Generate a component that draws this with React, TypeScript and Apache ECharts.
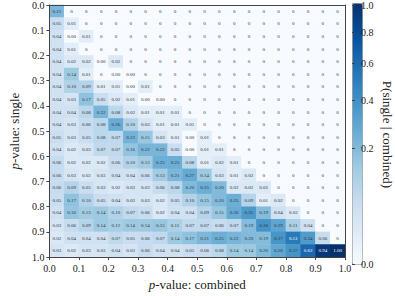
import React, { useEffect, useRef } from "react";
import * as echarts from "echarts";

// rows: p-value single (0.0 top -> 1.0 bottom), columns: p-value combined (0.0 -> 1.0)
const row00 = ["0.21","0","0","0","0","0","0","0","0","0","0","0","0","0","0","0","0","0","0","0"];
const row01 = ["0.05","0.01","0","0","0","0","0","0","0","0","0","0","0","0","0","0","0","0","0","0"];
const row02 = ["0.04","0.00","0.01","0","0","0","0","0","0","0","0","0","0","0","0","0","0","0","0","0"];
const row03 = ["0.04","0.01","0","0","0","0","0","0","0","0","0","0","0","0","0","0","0","0","0","0"];
const row04 = ["0.04","0.02","0.02","0.00","0.02","0","0","0","0","0","0","0","0","0","0","0","0","0","0","0"];
const row05 = ["0.04","0.14","0.01","0","0.00","0.00","0","0","0","0","0","0","0","0","0","0","0","0","0","0"];
const row06 = ["0.04","0.10","0.09","0.01","0.01","0.00","0.01","0","0","0","0","0","0","0","0","0","0","0","0","0"];
const row07 = ["0.04","0.03","0.17","0.05","0.02","0.01","0.00","0.00","0","0","0","0","0","0","0","0","0","0","0","0"];
const row08 = ["0.04","0.04","0.08","0.22","0.08","0.02","0.01","0.01","0.01","0","0","0","0","0","0","0","0","0","0","0"];
const row09 = ["0.04","0.03","0.06","0.08","0.26","0.10","0.03","0.01","0.01","0.01","0","0","0","0","0","0","0","0","0","0"];
const row10 = ["0.05","0.03","0.05","0.08","0.07","0.23","0.15","0.03","0.01","0.00","0.01","0","0","0","0","0","0","0","0","0"];
const row11 = ["0.04","0.02","0.03","0.07","0.07","0.16","0.22","0.22","0.05","0.00","0.01","0.01","0","0","0","0","0","0","0","0"];
const row12 = ["0.06","0.02","0.02","0.02","0.06","0.10","0.13","0.25","0.25","0.08","0.01","0.02","0.01","0","0","0","0","0","0","0"];
const row13 = ["0.06","0.03","0.02","0.03","0.04","0.04","0.06","0.13","0.21","0.27","0.14","0.03","0.01","0.02","0","0","0","0","0","0"];
const row14 = ["0.06","0.09","0.05","0.03","0.02","0.03","0.03","0.06","0.08","0.20","0.25","0.20","0.02","0.02","0.02","0","0","0","0","0"];
const row15 = ["0.05","0.17","0.10","0.05","0.04","0.03","0.03","0.02","0.05","0.10","0.15","0.20","0.25","0.09","0.01","0.02","0","0","0","0"];
const row16 = ["0.04","0.16","0.13","0.14","0.10","0.07","0.06","0.02","0.04","0.04","0.09","0.15","0.26","0.35","0.19","0.04","0.02","0","0","0"];
const row17 = ["0.03","0.06","0.09","0.14","0.12","0.14","0.14","0.15","0.11","0.07","0.07","0.06","0.07","0.19","0.38","0.29","0.11","0.04","0","0"];
const row18 = ["0.02","0.04","0.04","0.04","0.07","0.05","0.06","0.07","0.14","0.17","0.21","0.25","0.22","0.20","0.19","0.37","0.51","0.34","0.06","0"];
const row19 = ["0.03","0.02","0.03","0.03","0.04","0.03","0.06","0.04","0.04","0.05","0.06","0.08","0.14","0.14","0.20","0.28","0.37","0.62","0.94","1.00"];

const rows = [row00,row01,row02,row03,row04,row05,row06,row07,row08,row09,row10,row11,row12,row13,row14,row15,row16,row17,row18,row19];
const combinedBins = rows[0].map((_, j) => String(j));
const singleBins = rows.map((_, i) => String(i));
const colorbarTicks = [0, 0.2, 0.4, 0.6, 0.8, 1.0];
const blues = ["#f7fbff","#deebf7","#c6dbef","#9ecae1","#6baed6","#4292c6","#2171b5","#08519c","#08306b"];
const GAMMA = 0.5; // power-norm colour scale

const FONT = "Liberation Serif, DejaVu Serif, serif";
const norm = (v: number) => Math.pow(v, GAMMA);

export default function App() {
  const ref = useRef<HTMLDivElement>(null);
  useEffect(() => {
    if (!ref.current) return;
    const chart = echarts.init(ref.current, null, { renderer: "svg" });
    const data: any[] = [];
    rows.forEach((r, i) =>
      r.forEach((s, j) => {
        const v = Number(s);
        data.push({
          value: [j, i, v, norm(v)],
          label: { formatter: s, color: norm(v) > 0.68 ? "#ffffff" : "#333333" },
        });
      })
    );
    const axisLine = { show: true, lineStyle: { color: "#444", width: 1 } };
    const tickPos = colorbarTicks.map(norm);
    chart.setOption({
      animation: false,
      textStyle: { fontFamily: FONT },
      grid: [
        { left: 34, top: 3, width: 311, height: 259 },
        { left: 352, top: 3, width: 10, height: 261 },
      ],
      xAxis: [
        { type: "category", gridIndex: 0, data: combinedBins, show: false },
        {
          type: "value", gridIndex: 0, min: 0, max: 1, interval: 0.1, position: "bottom", z: 10,
          axisLine, axisTick: { show: true, length: 3, lineStyle: { color: "#444" } },
          splitLine: { show: false },
          axisLabel: { formatter: (v: number) => v.toFixed(1), fontSize: 10, color: "#222", fontFamily: FONT, margin: 6 },
          name: "{i|p}-value: combined", nameLocation: "middle", nameGap: 15,
          nameTextStyle: { fontSize: 13, color: "#222", fontFamily: FONT,
            rich: { i: { fontStyle: "italic", fontSize: 13, color: "#222", fontFamily: FONT } } },
        },
        {
          type: "value", gridIndex: 0, min: 0, max: 1, position: "top", z: 10,
          axisLine, axisTick: { show: false }, axisLabel: { show: false }, splitLine: { show: false },
        },
        { type: "value", gridIndex: 1, show: false, min: 0, max: 1 },
      ],
      yAxis: [
        { type: "category", gridIndex: 0, data: singleBins, inverse: true, show: false },
        {
          type: "value", gridIndex: 0, min: 0, max: 1, interval: 0.1, inverse: true, position: "left", z: 10,
          axisLine, axisTick: { show: true, length: 3, lineStyle: { color: "#444" } },
          splitLine: { show: false },
          axisLabel: { formatter: (v: number) => v.toFixed(1), fontSize: 10, color: "#222", fontFamily: FONT, margin: 5 },
          name: "{i|p}-value: single", nameLocation: "middle", nameGap: 23, nameRotate: 90,
          nameTextStyle: { fontSize: 13, color: "#222", fontFamily: FONT,
            rich: { i: { fontStyle: "italic", fontSize: 13, color: "#222", fontFamily: FONT } } },
        },
        {
          type: "value", gridIndex: 0, min: 0, max: 1, position: "right", z: 10,
          axisLine, axisTick: { show: false }, axisLabel: { show: false }, splitLine: { show: false },
        },
        {
          type: "value", gridIndex: 1, min: 0, max: 1, position: "right", z: 10,
          axisLine: { show: false },
          axisTick: { show: true, length: 3, lineStyle: { color: "#444" }, customValues: tickPos },
          splitLine: { show: false },
          axisLabel: {
            customValues: tickPos,
            formatter: (v: number) => Math.pow(v, 1 / GAMMA).toFixed(1),
            fontSize: 10, color: "#222", fontFamily: FONT, margin: 2,
          },
          name: "P(single | combined)", nameLocation: "middle", nameGap: 22, nameRotate: -90,
          nameTextStyle: { fontSize: 13, color: "#222", fontFamily: FONT },
        },
      ],
      visualMap: {
        type: "continuous", min: 0, max: 1, seriesIndex: 0, dimension: 3,
        inRange: { color: blues }, calculable: false, show: true, orient: "vertical",
        left: 352, top: 3, itemWidth: 10, itemHeight: 261, padding: 0, text: ["", ""],
        borderColor: "#999", borderWidth: 1, hoverLink: false,
      },
      series: [
        {
          type: "heatmap", xAxisIndex: 0, yAxisIndex: 0, data,
          label: { show: true, fontSize: 5, fontFamily: FONT },
          itemStyle: { borderWidth: 0 },
        },
      ],
    });
    return () => chart.dispose();
  }, []);
  return <div ref={ref} style={{ width: 395, height: 296, position: "absolute", left: 0, top: 0 }} />;
}
